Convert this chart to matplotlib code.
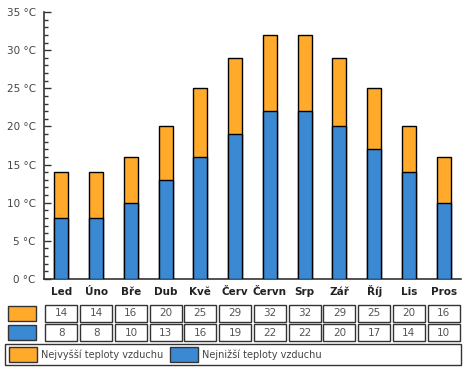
import matplotlib
matplotlib.use("Agg")
import matplotlib.pyplot as plt
import matplotlib.transforms as mtransforms
from matplotlib.patches import Rectangle
from matplotlib.ticker import MultipleLocator, FuncFormatter

# ── Data ───────
months = ["Led", "Úno", "Bře", "Dub", "Kvě", "Červ", "Červn", "Srp", "Zář", "Říj", "Lis", "Pros"]
high = [14, 14, 16, 20, 25, 29, 32, 32, 29, 25, 20, 16]
low = [8, 8, 10, 13, 16, 19, 22, 22, 20, 17, 14, 10]
label_high = "Nejvyšší teploty vzduchu"
label_low = "Nejnižší teploty vzduchu"

# ── Colors ──────
C_ORANGE = "#FFAA2B"
C_BLUE = "#3A89D2"
C_AXIS = "#333333"
C_TEXT = "#444444"

W, H = 465, 372
fig = plt.figure(figsize=(W / 100, H / 100), dpi=100, facecolor="white")
plt.rcParams["font.family"] = ["DejaVu Sans"]


def fx(px):
    return px / W


def fy(py):
    return 1 - py / H


ax = fig.add_axes([fx(44), fy(279), fx(461) - fx(44), fy(12) - fy(279)])
x = list(range(len(months)))
ax.bar(x, high, 0.41, color=C_ORANGE, edgecolor="black", linewidth=1.0, zorder=2)
ax.bar(x, low, 0.41, color=C_BLUE, edgecolor="black", linewidth=1.0, zorder=3)

ax.set_xlim(-0.5, len(months) - 0.5)
ax.set_ylim(0, 35)
ax.yaxis.set_major_locator(MultipleLocator(5))
ax.yaxis.set_minor_locator(MultipleLocator(1))
ax.yaxis.set_major_formatter(FuncFormatter(lambda v, _: f"{int(v)} °C"))
ax.tick_params(axis="y", which="major", direction="in", length=5, width=1,
               color=C_AXIS, labelsize=7.5, labelcolor=C_TEXT, pad=6)
ax.tick_params(axis="y", which="minor", direction="in", length=3, width=1, color=C_AXIS)
ax.set_xticks([])
for s in ["top", "right"]:
    ax.spines[s].set_visible(False)
for s in ["left", "bottom"]:
    ax.spines[s].set_color(C_AXIS)
    ax.spines[s].set_linewidth(1.2)

blend = mtransforms.blended_transform_factory(ax.transData, fig.transFigure)

# month labels, baseline aligned
for i, m in enumerate(months):
    fig.text(i, fy(295), m, transform=blend, ha="center", va="baseline",
             fontsize=7.5, fontweight="bold", color="#222222")

# ── Data table below the axis ───────
cw = 0.92
rows = [(high, C_ORANGE, 305, 322), (low, C_BLUE, 324, 341)]
for vals, col, y0, y1 in rows:
    fig.patches.append(Rectangle((fx(8), fy(y1 - 1)), fx(28), fy(y0 + 1) - fy(y1 - 1),
                                 transform=fig.transFigure, facecolor=col,
                                 edgecolor=C_AXIS, linewidth=1))
    for i, v in enumerate(vals):
        fig.patches.append(Rectangle((i - cw / 2, fy(y1)), cw, fy(y0) - fy(y1),
                                     transform=blend, facecolor="white",
                                     edgecolor=C_AXIS, linewidth=1))
        fig.text(i, fy((y0 + y1) / 2), str(v), transform=blend, ha="center",
                 va="center", fontsize=7.5, color="#555555")

# ── Legend ───────
fig.patches.append(Rectangle((fx(5), fy(365)), fx(456), fy(344) - fy(365),
                             transform=fig.transFigure, facecolor="white",
                             edgecolor=C_AXIS, linewidth=1))
for col, lab, x0 in [(C_ORANGE, label_high, 9), (C_BLUE, label_low, 170)]:
    fig.patches.append(Rectangle((fx(x0), fy(362)), fx(28), fy(347) - fy(362),
                                 transform=fig.transFigure, facecolor=col,
                                 edgecolor=C_AXIS, linewidth=1))
    fig.text(fx(x0 + 32), fy(354.5), lab, ha="left", va="center",
             fontsize=7, color=C_TEXT)

fig.savefig("out.png", dpi=100, facecolor="white")
